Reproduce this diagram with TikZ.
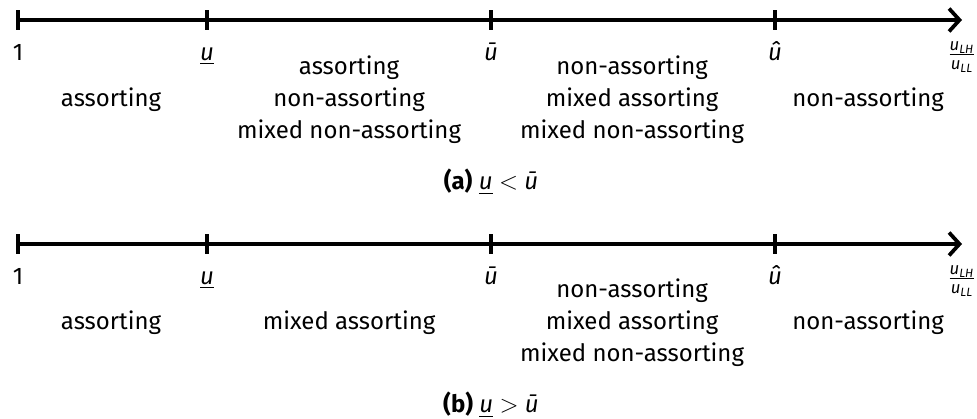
\documentclass[tikz,border=0pt]{standalone}
\usepackage{amsmath}
\usepackage{fontspec}
\setmainfont{Fira Sans}
\usetikzlibrary{arrows.meta}

\newcommand{\ulow}{\underline{\textit{u}}}
\newcommand{\ubar}{\textit{\=u}}
\newcommand{\uhat}{\textit{\^u}}
\newcommand{\uratio}{$\frac{\textit{u}_{\textit{LH}}}{\textit{u}_{\textit{LL}}}$}

\begin{document}
\begin{tikzpicture}[line cap=round,line join=round,x=0.48pt,y=-0.48pt,
	every node/.style={font=\fontsize{11.5}{15.4}\selectfont},
	axis/.style={line width=1.8pt,-{Straight Barb[length=5pt,width=11pt,line width=1.8pt]}},
	tick/.style={line width=1.8pt,line cap=butt},
	ticklabel/.style={anchor=base},
	region/.style={align=center},
	]
	\useasboundingbox (0,0) rectangle (977,418);
	% (a)
	\draw [axis] (18,20) -- (962,20);
	\foreach \x in {18,207,491,775}
		\draw [tick] (\x,10) -- (\x,30);
	\node [ticklabel] (a1) at (18,60) {1};
	\node [ticklabel] (alow) at (207,60) {\ulow};
	\node [ticklabel] (abar) at (491,60) {\ubar};
	\node [ticklabel] (ahat) at (775,60) {\uhat};
	\node [inner sep=0pt] (aend) at (962,57) {\uratio};
	\node [region] (ar1) at (111,100) {assorting};
	\node [region] (ar2) at (349,100) {assorting\\non-assorting\\mixed non-assorting};
	\node [region] (ar3) at (632,100) {non-assorting\\mixed assorting\\mixed non-assorting};
	\node [region] (ar4) at (868,100) {non-assorting};
	\node (capa) at (491,182) {\textbf{(a)} \ulow{} $<$ \ubar};
	% (b)
	\draw [axis] (18,244) -- (962,244);
	\foreach \x in {18,207,491,775}
		\draw [tick] (\x,234) -- (\x,254);
	\node [ticklabel] (b1) at (18,284) {1};
	\node [ticklabel] (blow) at (207,284) {\ulow};
	\node [ticklabel] (bbar) at (491,284) {\ubar};
	\node [ticklabel] (bhat) at (775,284) {\uhat};
	\node [inner sep=0pt] (bend) at (962,281) {\uratio};
	\node [region] (br1) at (111,323) {assorting};
	\node [region] (br2) at (349,323) {mixed assorting};
	\node [region] (br3) at (632,323) {non-assorting\\mixed assorting\\mixed non-assorting};
	\node [region] (br4) at (868,323) {non-assorting};
	\node (capb) at (491,405) {\textbf{(b)} \ulow{} $>$ \ubar};
\end{tikzpicture}
\end{document}
